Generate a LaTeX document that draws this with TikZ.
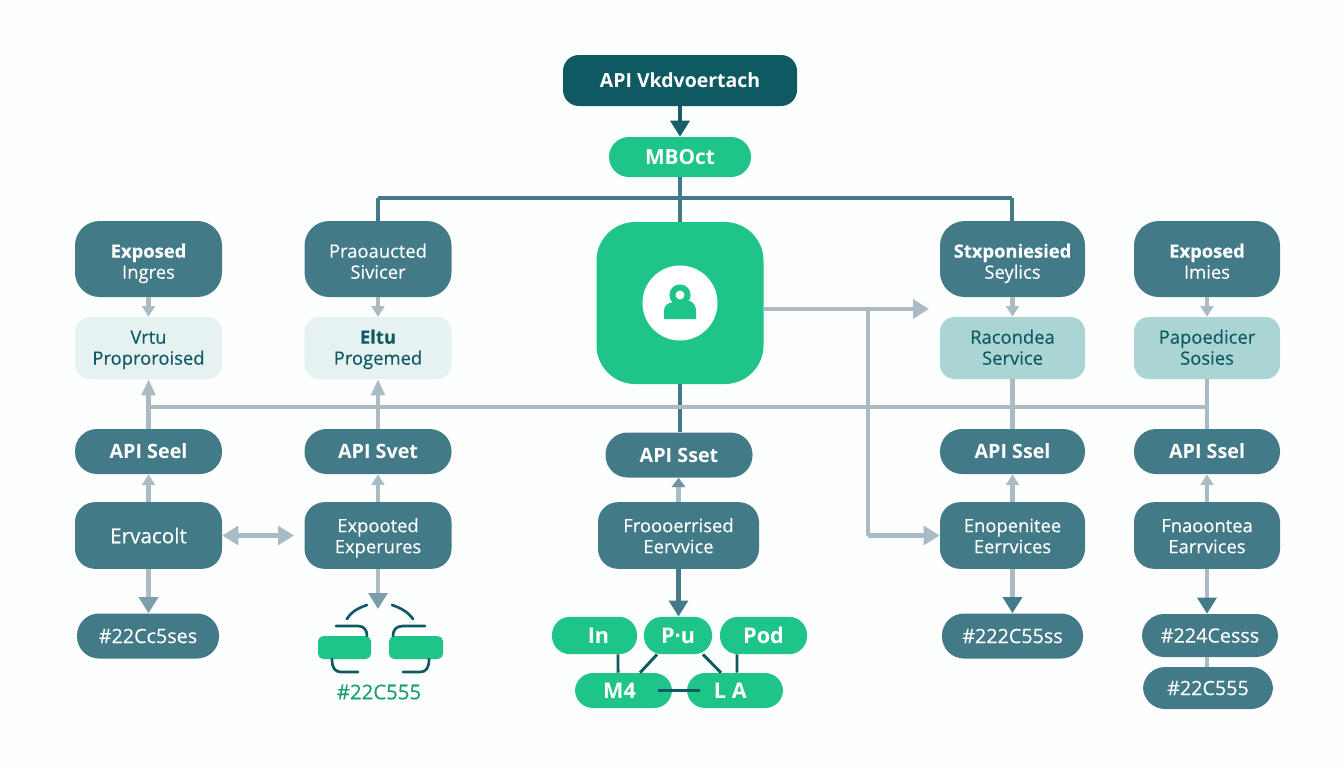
\documentclass[tikz,border=0pt]{standalone}
\usepackage{fontspec}
\setmainfont{Open Sans}
\newfontfamily\medfont[FakeBold=0.25]{Open Sans}
\usepackage{tikz}
\usetikzlibrary{arrows.meta}
\definecolor{tealdark}{HTML}{0F5A62}
\definecolor{tealmid}{HTML}{437A87}
\definecolor{greenbox}{HTML}{1EC488}
\definecolor{linegray}{HTML}{ABBBC4}
\definecolor{paleone}{HTML}{E6F2F1}
\definecolor{paletwo}{HTML}{ABD5D4}
\newcommand{\twolines}[3][3.75pt]{\raisebox{-#1}[11pt][4.7pt]{#2}\\\raisebox{-#1}[11pt][4.7pt]{#3}}
\tikzset{
  txt/.style={font=\medfont\fontsize{13.8}{15.75}\selectfont,align=center,text=white,inner sep=0pt},
  svcbox/.style={txt,fill=tealmid,minimum width=110.25pt,minimum height=57pt,rounded corners=18.5pt},
  lowbox/.style={txt,fill=tealmid,minimum width=110.25pt,minimum height=50pt,rounded corners=15pt},
  pill/.style={txt,fill=tealmid,minimum width=110.25pt,minimum height=33.75pt,rounded corners=16.5pt,font=\bfseries\fontsize{14.8}{18}\selectfont},
  hashpill/.style={pill,font=\medfont\fontsize{14.8}{18}\selectfont},
  pale/.style={txt,text=tealdark,fill=paleone,minimum width=110.25pt,minimum height=46.5pt,rounded corners=11pt},
  gpill/.style={txt,fill=greenbox,minimum height=28pt,rounded corners=13.5pt,font=\bfseries\fontsize{16.2}{20}\selectfont},
  grayline/.style={draw=linegray,line width=3.4pt},
  tealline/.style={draw=tealmid,line width=3.3pt},
  grayhead/.style={-{Triangle[length=8pt,width=9.5pt,color=linegray]}},
  upperhead/.style={-{Triangle[length=12pt,width=10pt,color=linegray]}},
  widehead/.style={-{Triangle[length=12pt,width=14pt,color=linegray]}},
  slatehead/.style={-{Triangle[length=12pt,width=14pt,color=#1]}},
  bracket/.style={draw=tealdark,line width=2pt,line cap=round},
  mesh/.style={draw=tealdark,line width=2.2pt}
}
\begin{document}
\begin{tikzpicture}[x=0.75pt,y=0.75pt,yscale=-1,xscale=1]
    \useasboundingbox (0,0) rectangle (1344,768);
    \fill [color={rgb,255:red,253;green,254;blue,254}] (0,0) rectangle (1344,768);

    % Free ends
    \coordinate (busA) at (378,198);
    \coordinate (busC) at (1012,198);
    \coordinate (midL) at (149,407);
    \coordinate (midR) at (1207,407);
    \coordinate (sideTip) at (929,309);
    \coordinate (sideTurn) at (868,309);
    \coordinate (sideLow) at (868,535.5);
    \coordinate (swapTip) at (294,535.5);
    \coordinate (iconTip) at (378,609);

    % Top
    \node [txt,fill=tealdark,minimum width=175.5pt,minimum height=38.25pt,rounded corners=12pt,font=\bfseries\fontsize{14.6}{18}\selectfont] (gateway) at (680,80.5) {API Vkdvoertach};
    \node [txt,fill=greenbox,minimum width=106.5pt,minimum height=30pt,rounded corners=15pt,font=\bfseries\fontsize{15.6}{18}\selectfont] (mboct) at (680,157) {MBOct};
    \node [fill=greenbox,minimum width=125.25pt,minimum height=121.5pt,rounded corners=29pt,inner sep=0pt] (hub) at (680,303) {};
    \node [circle,fill=white,minimum size=56.25pt,inner sep=0pt] (hubdisc) at (680,303) {};

    % Column 1
    \node [svcbox] (expA) at (148.5,259) {\twolines{\textbf{Exposed}}{Ingres}};
    \node [pale] (palA) at (148.5,348) {\twolines[1.5pt]{Vrtu}{Proproroised}};
    \node [pill] (apiA) at (148.5,451.5) {API Seel};
    \node [lowbox,font=\medfont\fontsize{15.5}{18}\selectfont] (ervA) at (148.5,535.5) {Ervacolt};
    \node [hashpill,minimum width=106.5pt] (hashA) at (148,636) {\#22Cc5ses};

    % Column 2
    \node [svcbox] (expB) at (378,259) {\twolines{Praoaucted}{Sivicer}};
    \node [pale] (palB) at (378,348) {\twolines[1.5pt]{\textbf{Eltu}}{Progemed}};
    \node [pill] (apiB) at (378,451.5) {API Svet};
    \node [lowbox] (ervB) at (378,535.5) {\twolines[2.25pt]{Expooted}{Experures}};

    % Column 3
    \node [pill] (apiC) at (679,455) {API Sset};
    \node [lowbox,minimum width=120.75pt] (ervC) at (678.5,535.5) {\twolines[2.25pt]{Froooerrised}{Eervvice}};
    \node [gpill,minimum width=63.75pt] (podA) at (594.5,635.5) {\kern6pt In};
    \node [gpill,minimum width=51pt] (podB) at (678,635.5) {P·u};
    \node [gpill,minimum width=65.25pt] (podC) at (763.5,635.5) {Pod};
    \node [gpill,minimum width=72.75pt,minimum height=26.25pt] (podD) at (623.5,690.5) {M4\kern6pt};
    \node [gpill,minimum width=72pt,minimum height=26.25pt] (podE) at (735,690.5) {L A\kern7pt};

    % Column 4
    \node [svcbox,minimum width=108.75pt] (expD) at (1012.5,259) {\twolines{\textbf{Stxponiesied}}{Seylics}};
    \node [pale,fill=paletwo,minimum width=108.75pt] (palD) at (1012.5,348) {\twolines[1.5pt]{Racondea}{Service}};
    \node [pill,minimum width=108.75pt] (apiD) at (1012.5,451.5) {API Ssel};
    \node [lowbox,minimum width=108.75pt] (ervD) at (1012.5,535.5) {\twolines[2.25pt]{Enopenitee}{Eerrvices}};
    \node [hashpill,minimum width=105.75pt] (hashD) at (1012.5,636) {\#222C55ss};

    % Column 5
    \node [svcbox,minimum width=109.5pt] (expE) at (1207,259) {\twolines{\textbf{Exposed}}{Imies}};
    \node [pale,fill=paletwo,minimum width=109.5pt] (palE) at (1207,348) {\twolines[1.5pt]{Papoedicer}{Sosies}};
    \node [pill,minimum width=109.5pt] (apiE) at (1207,451.5) {API Ssel};
    \node [lowbox,minimum width=109.5pt] (ervE) at (1207,535.5) {\twolines[2.25pt]{Fnaoontea}{Earrvices}};
    \node [hashpill,minimum width=102pt,minimum height=32.25pt] (hashE) at (1210,635.5) {\#224Cesss};
    \node [hashpill,minimum width=97.5pt,minimum height=31.5pt] (hashF) at (1208,688) {\#22C555};

    % Label under the linked pair
    \node [txt,text={rgb,255:red,26;green,158;blue,112},font=\medfont\fontsize{15.3}{18}\selectfont] (pairlabel) at (379,692) {\#22C555};

    %Straight Lines
    \draw [draw=tealdark!85!tealmid,line width=3.3pt,slatehead=tealdark!85!tealmid] (gateway.south) -- (mboct.north);
    \draw [tealline] (mboct.south) -- (hub.north);
    \draw [tealline] (busA) -- (busC);
    \draw [tealline] (busA) -- (expB.north);
    \draw [tealline] (busC) -- (busC |- expD.north);
    \draw [tealline] (hub.south) -- (hub.south |- apiC.north);
    \draw [tealline,slatehead=tealmid] (ervC.south) -- (ervC.south |- podB.north);
    \draw [grayline,-{Triangle[length=7pt,width=10pt,color=tealmid!60!linegray]}] (ervC.north) -- (ervC.north |- apiC.south);

    %Gray bus
    \draw [grayline] (midL) -- (midR);
    \draw [grayline,widehead] (hub.east |- sideTip) -- (sideTip);
    \draw [grayline] (sideTurn) -- (sideLow);
    \draw [grayline,widehead] (sideLow) -- (ervD.west);

    %Upper arrows
    \draw [grayline,grayhead] (expA.south) -- (palA.north);
    \draw [grayline,grayhead] (expB.south) -- (palB.north);
    \draw [grayline,grayhead] (expD.south) -- (palD.north);
    \draw [grayline,grayhead] (expE.south) -- (palE.north);
    \draw [grayline,upperhead] (apiA.north) -- (palA.south);
    \draw [grayline,upperhead] (apiB.north) -- (palB.south);
    \draw [grayline] (palD.south) -- (apiD.north);
    \draw [grayline] (palE.south) -- (apiE.north);

    %Lower arrows
    \draw [grayline,grayhead] (ervA.north) -- (apiA.south);
    \draw [grayline,grayhead] (ervB.north) -- (apiB.south);
    \draw [grayline,grayhead] (ervD.north) -- (apiD.south);
    \draw [grayline,grayhead] (ervE.north) -- (apiE.south);
    \draw [grayline,{Triangle[length=12pt,width=14pt,color=linegray]}-{Triangle[length=12pt,width=14pt,color=linegray]}] (ervA.east) -- (swapTip);
    \draw [grayline,slatehead=linegray!55!tealmid] (ervA.south) -- (ervA.south |- hashA.north);
    \draw [grayline,slatehead=linegray!55!tealmid] (ervB.south) -- (iconTip);
    \draw [grayline,slatehead=tealmid] (ervD.south) -- (hashD.north);
    \draw [grayline,slatehead=tealmid] (ervE.south) -- (ervE.south |- hashE.north);
    \draw [grayline] (ervE.south |- hashE.south) -- (ervE.south |- hashF.north);

    %Pod links
    \draw [mesh] ([xshift=17.6pt]podA.south) -- ([xshift=-4.1pt]podD.north);
    \draw [mesh] ([xshift=-15.75pt]podB.south) -- ([xshift=12.4pt]podD.north);
    \draw [mesh] ([xshift=18.75pt]podB.south) -- ([xshift=-10.5pt]podE.north);
    \draw [mesh] ([xshift=-19.9pt]podC.south) -- ([xshift=1.5pt]podE.north);
    \draw [mesh,shorten <=-10.5pt,shorten >=-10pt] (podD.east) -- (podE.west);

    %Person icon
    \draw [color=greenbox,line width=4.5pt] (680,295) circle [radius=7.5];
    \fill [color=greenbox] (664,319) -- (664,311) .. controls (664,305) and (668,303) .. (673,302) -- (690,301) .. controls (694,303) and (696,306) .. (696,311) -- (696,319) -- cycle;

    %Linked pair icon
    \fill [color=greenbox,rounded corners=4pt] (318,636) rectangle (371,659);
    \fill [color=greenbox,rounded corners=4pt] (389,636) rectangle (443,659);
    \draw [bracket] (347,619) .. controls (351,612) and (358,608) .. (367,605);
    \draw [bracket] (392,605) .. controls (401,608) and (408,612) .. (413,619);
    \draw [bracket] (336,626) -- (358,626) .. controls (364,626) and (367,630) .. (367,636);
    \draw [bracket] (425,626) -- (403,626) .. controls (396,626) and (393,630) .. (393,636);
    \draw [bracket] (332,659) .. controls (332,668) and (335,672) .. (341,672) -- (358,672);
    \draw [bracket] (429,659) .. controls (429,668) and (426,672) .. (420,672) -- (403,672);
\end{tikzpicture}
\end{document}
